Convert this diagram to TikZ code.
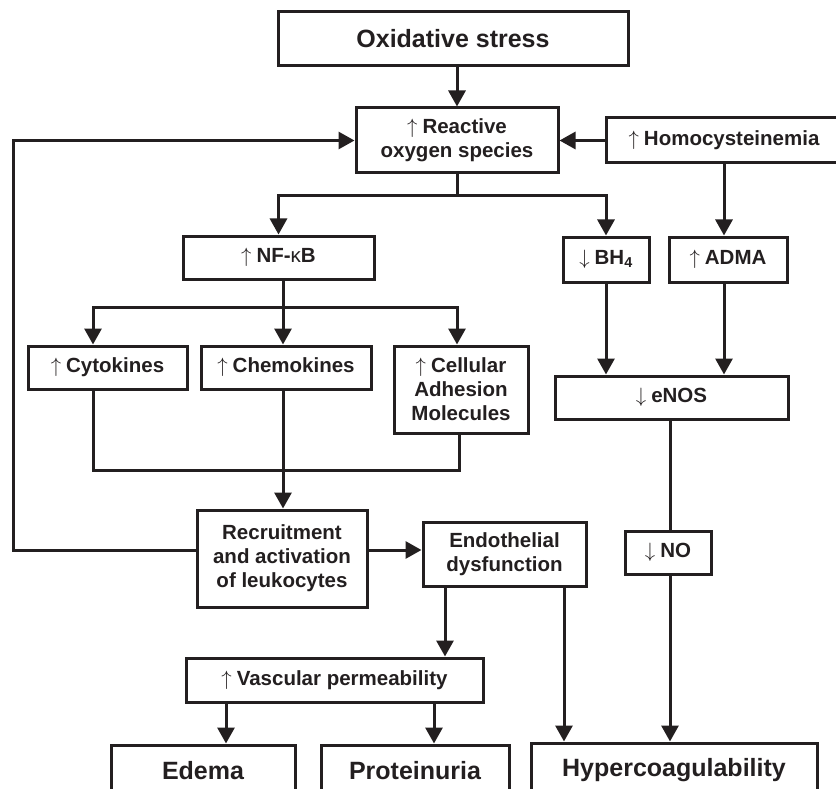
\documentclass[tikz,border=0pt]{standalone}
\usepackage{fontspec}
\setmainfont{Liberation Sans}
\usetikzlibrary{arrows.meta}
\definecolor{ink}{RGB}{35,31,32}
\newcommand{\myup}{$\uparrow$\hspace{5pt}}
\newcommand{\mydown}{$\downarrow$\hspace{5pt}}
\begin{document}
\begin{tikzpicture}[x=1pt,y=-1pt,line width=3pt,draw=ink,text=ink,
  box/.style={draw=ink,line width=3pt,inner sep=0pt,align=center,
    font=\fontsize{20.5}{24}\selectfont\bfseries},
  bigbox/.style={box,font=\fontsize{25}{30}\selectfont\bfseries},
  arr/.style={-{Triangle[length=16pt,width=17pt]}},
  arrboth/.style={{Triangle[length=16pt,width=17pt]}-{Triangle[length=16pt,width=17pt]}}]
\useasboundingbox (0,0) rectangle (836,789);
\clip (0,0) rectangle (836,789);
% nodes
\node[bigbox,minimum width=350pt,minimum height=54pt] (ox) at (453,39) {Oxidative stress};
\node[box,minimum width=202pt,minimum height=65pt] (ros) at (457,140.5) {\myup Reactive\\oxygen species};
\node[box,minimum width=236pt,minimum height=45pt,text width=234pt] (hom) at (724,140.5) {\myup Homocysteinemia};
\node[box,minimum width=191pt,minimum height=43pt] (nfkb) at (278.5,257.5) {\myup NF-{\mdseries κ}B};
\node[box,minimum width=86pt,minimum height=45pt] (bh4) at (606,259.5) {\mydown BH\textsubscript{4}};
\node[box,minimum width=118pt,minimum height=45pt] (adma) at (728,259.5) {\myup ADMA};
\node[box,minimum width=159pt,minimum height=43pt] (cyto) at (107.5,367.5) {\myup Cytokines};
\node[box,minimum width=170pt,minimum height=43pt] (chemo) at (286,367.5) {\myup Chemokines};
\node[box,minimum width=134pt,minimum height=87pt] (cell) at (461,389.5) {\myup Cellular\\Adhesion\\Molecules};
\node[box,minimum width=233pt,minimum height=43pt] (enos) at (671.5,397.5) {\mydown eNOS};
\node[box,minimum width=170pt,minimum height=97pt] (recr) at (282,558.5) {Recruitment\\and activation\\of leukocytes};
\node[box,minimum width=163pt,minimum height=64pt] (endo) at (504.5,554) {Endothelial\\dysfunction};
\node[box,minimum width=86pt,minimum height=43pt] (no) at (668,552.5) {\mydown NO};
\node[box,minimum width=297pt,minimum height=44pt] (vasc) at (334.5,680) {\myup Vascular permeability};
\node[bigbox,minimum width=184pt,minimum height=52pt] (edema) at (203,771) {Edema};
\node[bigbox,minimum width=188pt,minimum height=52pt] (prot) at (415,771) {Proteinuria};
\node[bigbox,minimum width=286pt,minimum height=54pt] (hyper) at (674,770) {Hypercoagulability};
% helper coordinates
\coordinate (fbA) at (13,550);
\coordinate (fbB) at (13,140.5);
\coordinate (nb) at (283,307);
\coordinate (xcy) at (93,0);
\coordinate (xcl) at (457,0);
\coordinate (xcl2) at (459,0);
\coordinate (cb) at (283,470);
\coordinate (xno) at (670,0);
\coordinate (ry) at (0,550);
\coordinate (xe1) at (445,0);
\coordinate (xe2) at (564,0);
\coordinate (xv1) at (226,0);
\coordinate (xv2) at (434,0);
% connectors
\draw[arr] (ros.north |- ox.south) -- (ros.north);
\draw[arr] (hom.west) -- (ros.east);
\draw[arr] (recr.west |- fbA) -- (fbA) -- (fbB) -- (ros.west);
\draw (ros.south) -- ++(0,21) coordinate (rb);
\draw[arrboth] (nfkb.north) |- (rb) -| (bh4.north);
\draw[arr] (hom.south) -- (hom.south |- adma.north);
\draw (nb |- nfkb.south) -- (nb);
\draw[arrboth] (xcy |- cyto.north) |- (nb) -| (xcl |- cell.north);
\draw[arr] (nb) -- (nb |- chemo.north);
\draw (xcy |- cyto.south) |- (xcl2 |- cb) -- (xcl2 |- cell.south);
\draw[arr] (cb |- chemo.south) -- (cb |- recr.north);
\draw[arr] (bh4.south) -- (bh4.south |- enos.north);
\draw[arr] (hom.south |- adma.south) -- (hom.south |- enos.north);
\draw (xno |- enos.south) -- (xno |- no.north);
\draw[arr] (xno |- no.south) -- (xno |- hyper.north);
\draw[arr] (recr.east |- ry) -- (endo.west |- ry);
\draw[arr] (xe1 |- endo.south) -- (xe1 |- vasc.north);
\draw[arr] (xe2 |- endo.south) -- (xe2 |- hyper.north);
\draw[arr] (xv1 |- vasc.south) -- (xv1 |- edema.north);
\draw[arr] (xv2 |- vasc.south) -- (xv2 |- prot.north);
\end{tikzpicture}
\end{document}
